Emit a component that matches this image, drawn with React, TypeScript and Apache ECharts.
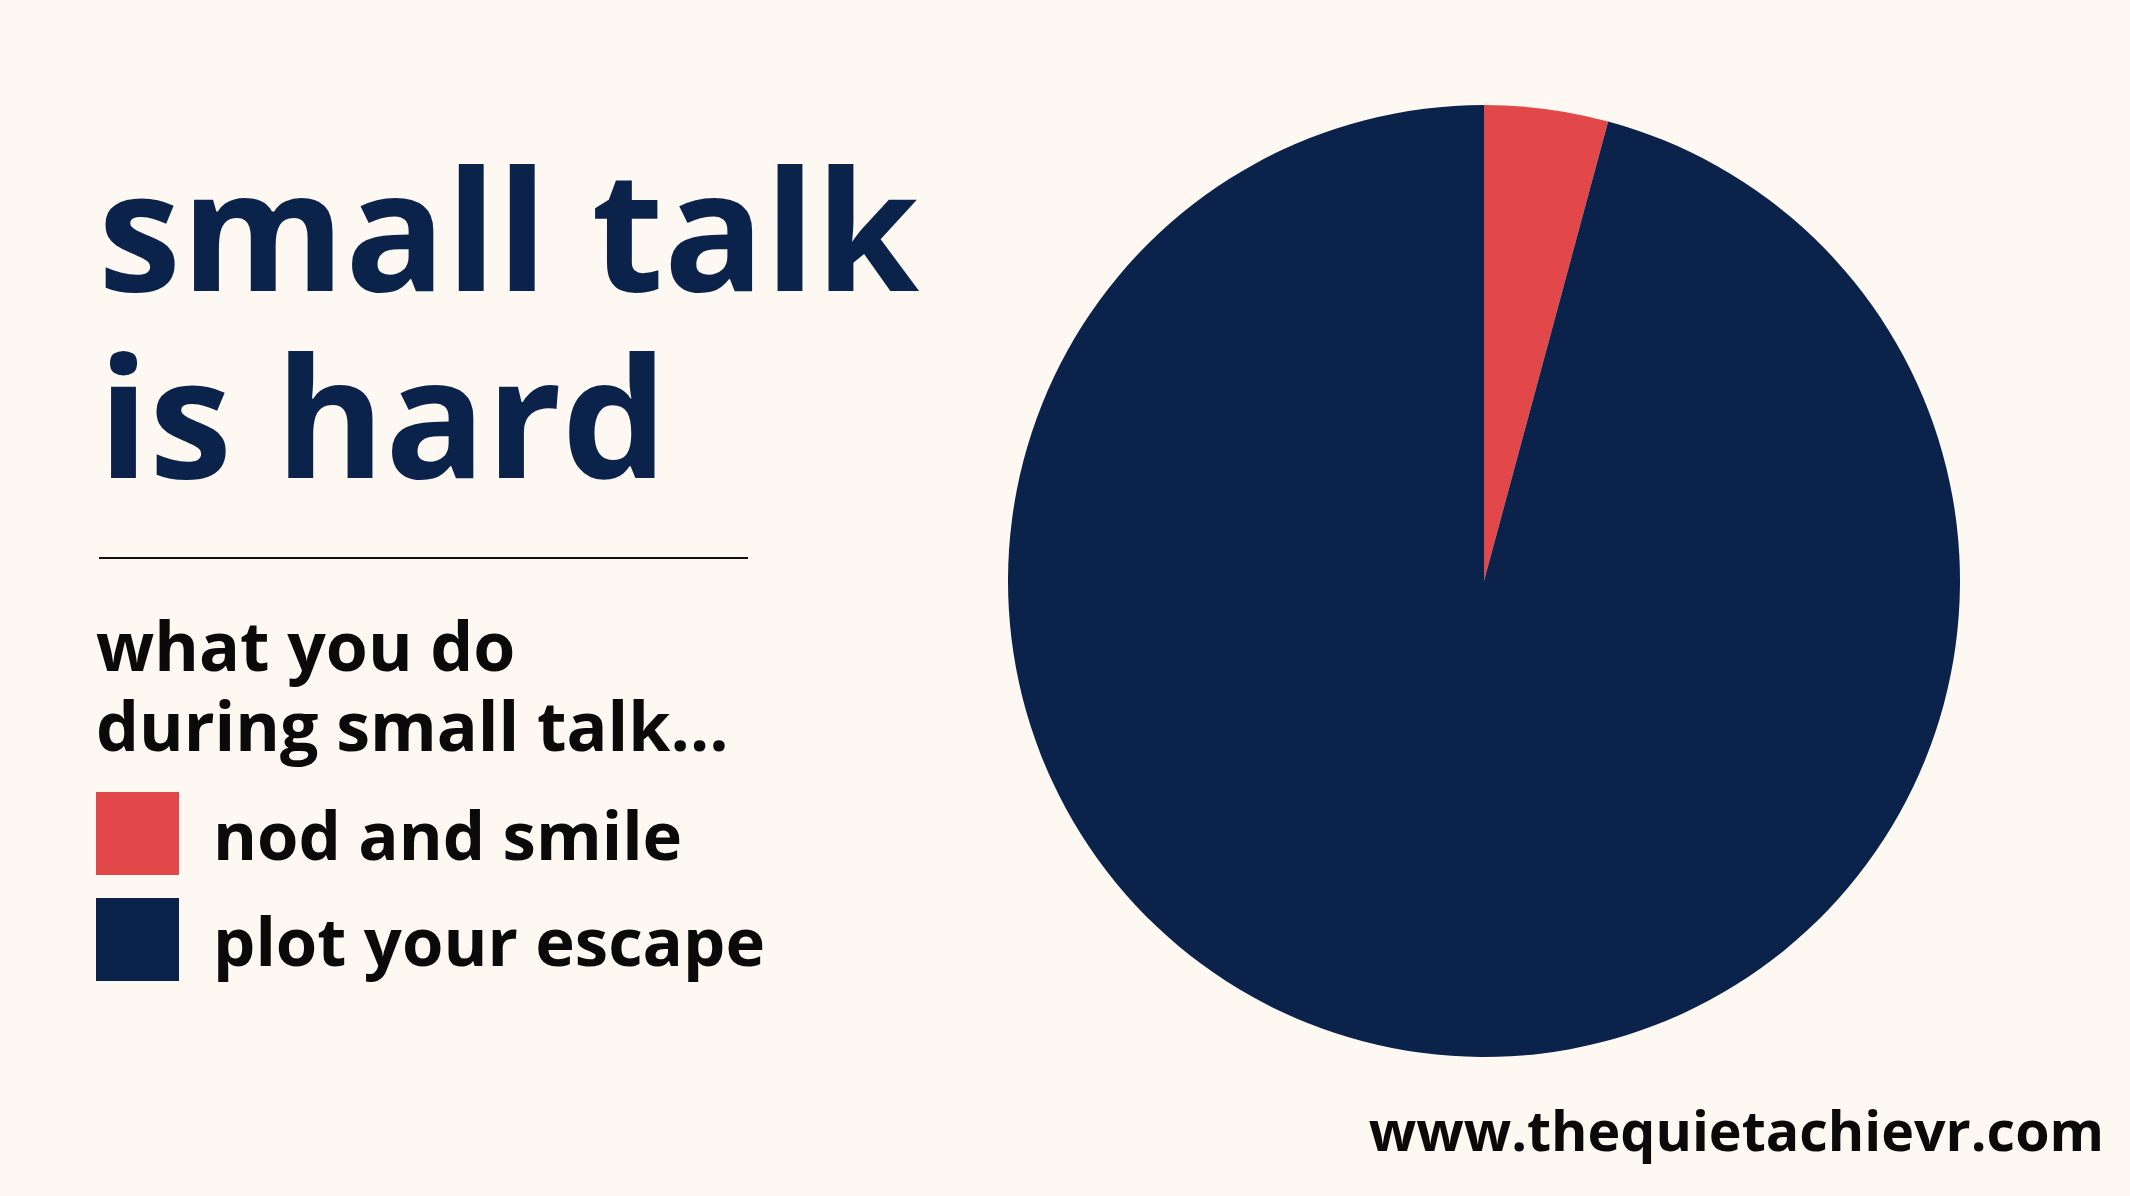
import React, { useEffect, useRef } from "react";
import * as echarts from "echarts";

const categories = ["nod and smile", "plot your escape"];
const shares = [4.2, 95.8];
const sliceColors = ["#E2474A", "#0B234B"];
const titleLines = ["small talk", "is hard"];
const subtitleLines = ["what you do", "during small talk…"];
const website = "www.thequietachievr.com";

export default function App() {
  const ref = useRef<HTMLDivElement>(null);
  useEffect(() => {
    document.body.style.margin = "0";
    document.body.style.overflow = "hidden";
    const chart = echarts.init(ref.current!, null, { renderer: "svg" });
    const font = "'Open Sans', 'Noto Sans', sans-serif";
    const titles: any[] = [];
    titleLines.forEach((t, i) => {
      titles.push({
        text: t,
        left: 98,
        top: 141 + i * 187,
        padding: 0,
        textStyle: { fontFamily: font, fontWeight: "bold", fontSize: 167, lineHeight: 170, color: "#0B234B" },
      });
    });
    subtitleLines.forEach((t, i) => {
      titles.push({
        text: t,
        left: 96,
        top: 609 + i * 80,
        padding: 0,
        textStyle: { fontFamily: font, fontWeight: "bold", fontSize: 68, lineHeight: 70, color: "#0A0A0A" },
      });
    });
    titles.push({
      text: website,
      right: 26,
      top: 1099,
      padding: 0,
      textStyle: { fontFamily: font, fontWeight: "bold", fontSize: 55.5, lineHeight: 60, color: "#0A0A0A" },
    });
    chart.setOption({
      animation: false,
      backgroundColor: "#FDF8F2",
      title: titles,
      legend: {
        orient: "vertical",
        left: 96,
        top: 792,
        padding: 0,
        itemWidth: 83,
        itemHeight: 83,
        itemGap: 23,
        icon: "rect",
        selectedMode: false,
        data: categories,
        textStyle: {
          fontFamily: font,
          fontWeight: "bold",
          fontSize: 67,
          color: "#0A0A0A",
          padding: [0, 0, 0, 29],
        },
      },
      graphic: [
        {
          type: "line",
          shape: { x1: 99, y1: 558, x2: 748, y2: 558 },
          style: { stroke: "#111111", lineWidth: 2 },
          silent: true,
        },
      ],
      series: [
        {
          type: "pie",
          center: [1484, 581],
          radius: 476,
          startAngle: 90,
          clockwise: true,
          label: { show: false },
          labelLine: { show: false },
          emphasis: { disabled: true },
          silent: true,
          data: categories.map((name, i) => ({
            name,
            value: shares[i],
            itemStyle: { color: sliceColors[i] },
          })),
        },
      ],
    });
    return () => chart.dispose();
  }, []);
  return <div ref={ref} style={{ width: 2130, height: 1196 }} />;
}
